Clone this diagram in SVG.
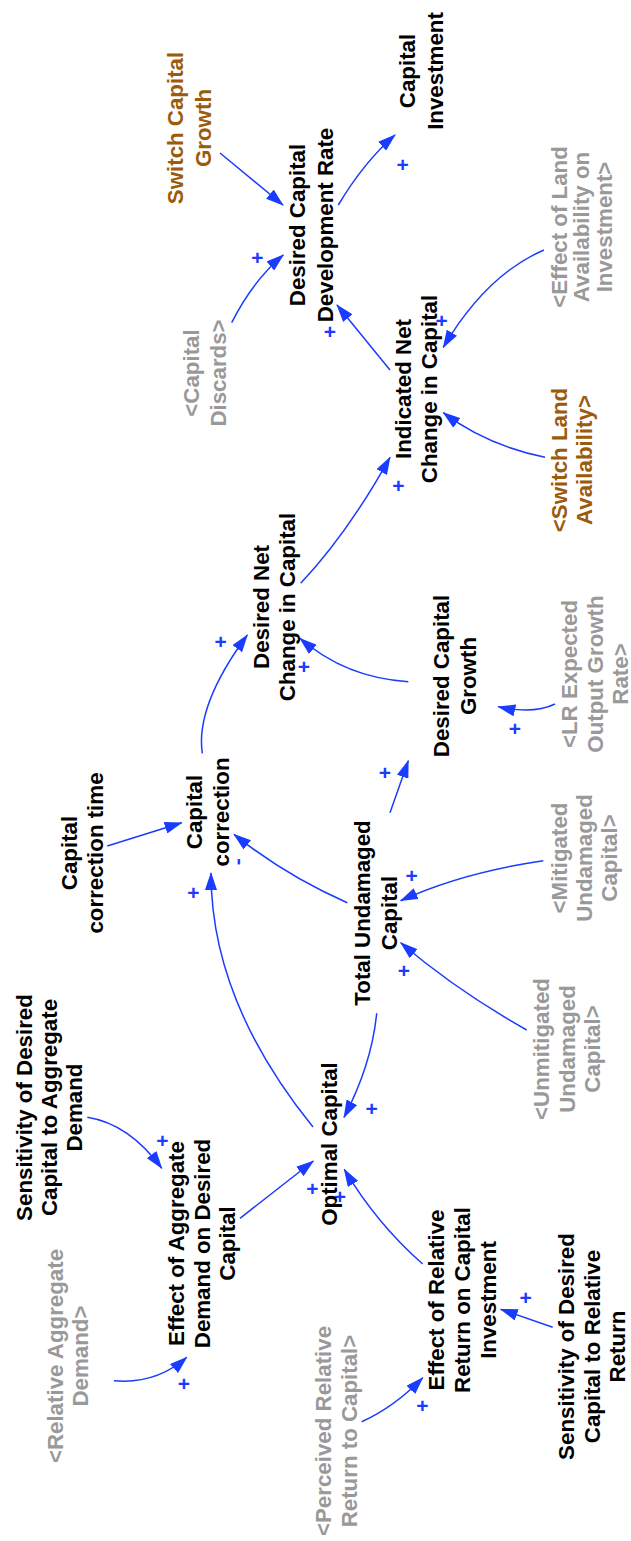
<svg xmlns="http://www.w3.org/2000/svg" width="631" height="1541" viewBox="0 0 631 1541">
<style>
.n{font-family:"Liberation Sans",Arial,sans-serif;font-weight:bold;font-size:22.3px;text-anchor:middle;fill:#000}
.g{fill:#999999}
.b{fill:#9b5b0b}
.l{fill:none;stroke:#1a3cff;stroke-width:1.5;marker-end:url(#ah)}
.p{font-family:"Liberation Sans",Arial,sans-serif;font-weight:bold;font-size:21px;fill:#1a3cff;text-anchor:middle}
</style>
<defs>
<marker id="ah" viewBox="0 0 18 12" refX="17" refY="6" markerWidth="18" markerHeight="12" markerUnits="userSpaceOnUse" orient="auto"><path d="M0,0 L18,6 L0,12 z" fill="#1a3cff"/></marker>
</defs>
<rect width="631" height="1541" fill="#fff"/>
<g id="connectors">
<path class="l" d="M220,153 L283,205"/>
<path class="l" d="M231.7,322.7 Q252.5,281.1 283.3,255"/>
<path class="l" d="M338.3,205 Q364,162 395,135"/>
<path class="l" d="M390,370 Q360,333 337,305"/>
<path class="l" d="M544,250 Q486.3,274.7 443.3,347.3"/>
<path class="l" d="M545,457.3 Q485.8,445 443.3,412.7"/>
<path class="l" d="M300.7,583.3 Q348,533 390,457.3"/>
<path class="l" d="M408.3,681.7 Q345.8,678 300,638.3"/>
<path class="l" d="M202.3,753.3 Q195.2,705.8 247.3,635"/>
<path class="l" d="M555,704 Q533.3,714.6 498.3,706.7"/>
<path class="l" d="M390,812.7 L408.3,760.7"/>
<path class="l" d="M107.3,846 L181.7,822.7"/>
<path class="l" d="M347.3,902.7 Q285.3,875.5 234,834.3"/>
<path class="l" d="M313,1127 Q211,1001 211,873"/>
<path class="l" d="M376.7,1013.3 Q371.6,1064.7 344,1117.3"/>
<path class="l" d="M543.3,860.7 Q461.4,872.7 400.7,900.7"/>
<path class="l" d="M526.7,1030 Q456.3,990.2 400.7,942.7"/>
<path class="l" d="M87.3,1117.3 Q128.9,1123.8 161.7,1168.3"/>
<path class="l" d="M240,1218.3 L313.3,1161"/>
<path class="l" d="M114,1380.7 Q156.2,1384.4 186.7,1357.3"/>
<path class="l" d="M422.7,1264 Q376.5,1223.3 344.3,1169.3"/>
<path class="l" d="M361.7,1421.7 Q394.4,1406.9 422.7,1377.7"/>
<path class="l" d="M552.7,1327.3 L500.7,1309.3"/>
</g>
<g id="polarities">
<text class="p" x="257.3" y="264.8">+</text>
<text class="p" x="402.7" y="171.5">+</text>
<text class="p" x="330" y="339.2">+</text>
<text class="p" x="441.7" y="327.5">+</text>
<text class="p" x="398.3" y="492.5">+</text>
<text class="p" x="304" y="674.2">+</text>
<text class="p" x="220.7" y="649.2">+</text>
<text class="p" x="515" y="735.8">+</text>
<text class="p" x="385" y="779.8">+</text>
<text class="p" transform="translate(244,861.7) rotate(-90)" x="0" y="0">-</text>
<text class="p" x="193.3" y="900.2">+</text>
<text class="p" x="371.7" y="1115.8">+</text>
<text class="p" x="411.7" y="883.2">+</text>
<text class="p" x="404" y="977.5">+</text>
<text class="p" x="162.3" y="1148.2">+</text>
<text class="p" x="312.3" y="1195.8">+</text>
<text class="p" x="184" y="1390.8">+</text>
<text class="p" x="340" y="1203.5">+</text>
<text class="p" x="422.3" y="1412.5">+</text>
<text class="p" x="525.7" y="1304.8">+</text>
</g>
<g id="capital-investment"><text class="n" transform="translate(415,71) rotate(-90)"><tspan x="0" y="0">Capital</tspan><tspan x="0" y="28">Investment</tspan></text></g>
<g id="desired-capital-development-rate"><text class="n" transform="translate(305,225) rotate(-90)"><tspan x="0" y="0">Desired Capital</tspan><tspan x="0" y="28">Development Rate</tspan></text></g>
<g id="switch-capital-growth"><text class="n b" transform="translate(183,128) rotate(-90)"><tspan x="0" y="0">Switch Capital</tspan><tspan x="0" y="28">Growth</tspan></text></g>
<g id="capital-discards"><text class="n g" transform="translate(199,373) rotate(-90)"><tspan x="0" y="0">&lt;Capital</tspan><tspan x="0" y="27">Discards&gt;</tspan></text></g>
<g id="indicated-net-change"><text class="n" transform="translate(410.5,389) rotate(-90)"><tspan x="0" y="0">Indicated Net</tspan><tspan x="0" y="26.5">Change in Capital</tspan></text></g>
<g id="effect-land-availability"><text class="n g" transform="translate(566.5,227) rotate(-90)"><tspan x="0" y="0">&lt;Effect of Land</tspan><tspan x="0" y="22.5">Availability on</tspan><tspan x="0" y="45">Investment&gt;</tspan></text></g>
<g id="switch-land-availability"><text class="n b" transform="translate(566.5,460) rotate(-90)"><tspan x="0" y="0">&lt;Switch Land</tspan><tspan x="0" y="25">Availability&gt;</tspan></text></g>
<g id="desired-net-change"><text class="n" transform="translate(269,607) rotate(-90)"><tspan x="0" y="0">Desired Net</tspan><tspan x="0" y="26">Change in Capital</tspan></text></g>
<g id="desired-capital-growth"><text class="n" transform="translate(448.5,676) rotate(-90)"><tspan x="0" y="0">Desired Capital</tspan><tspan x="0" y="27">Growth</tspan></text></g>
<g id="lr-expected-output-growth"><text class="n g" transform="translate(576.5,674) rotate(-90)"><tspan x="0" y="0">&lt;LR Expected</tspan><tspan x="0" y="26">Output Growth</tspan><tspan x="0" y="51.5">Rate&gt;</tspan></text></g>
<g id="capital-correction-time"><text class="n" transform="translate(76.5,853) rotate(-90)"><tspan x="0" y="0">Capital</tspan><tspan x="0" y="26.5">correction time</tspan></text></g>
<g id="capital-correction"><text class="n" transform="translate(201.5,812) rotate(-90)"><tspan x="0" y="0">Capital</tspan><tspan x="0" y="27">correction</tspan></text></g>
<g id="total-undamaged-capital"><text class="n" transform="translate(370,913) rotate(-90)"><tspan x="0" y="0">Total Undamaged</tspan><tspan x="0" y="26.5">Capital</tspan></text></g>
<g id="mitigated-undamaged-capital"><text class="n g" transform="translate(566.5,858) rotate(-90)"><tspan x="0" y="0">&lt;Mitigated</tspan><tspan x="0" y="25">Undamaged</tspan><tspan x="0" y="50">Capital&gt;</tspan></text></g>
<g id="unmitigated-undamaged-capital"><text class="n g" transform="translate(548.5,1049) rotate(-90)"><tspan x="0" y="0">&lt;Unmitigated</tspan><tspan x="0" y="26.5">Undamaged</tspan><tspan x="0" y="51.5">Capital&gt;</tspan></text></g>
<g id="optimal-capital"><text class="n" transform="translate(336.5,1144) rotate(-90)"><tspan x="0" y="0">Optimal Capital</tspan></text></g>
<g id="sensitivity-aggregate-demand"><text class="n" transform="translate(31.5,1107.5) rotate(-90)"><tspan x="0" y="0">Sensitivity of Desired</tspan><tspan x="0" y="25">Capital to Aggregate</tspan><tspan x="0" y="50.5">Demand</tspan></text></g>
<g id="effect-aggregate-demand"><text class="n" transform="translate(183.5,1243.5) rotate(-90)"><tspan x="0" y="0">Effect of Aggregate</tspan><tspan x="0" y="26">Demand on Desired</tspan><tspan x="0" y="51.5">Capital</tspan></text></g>
<g id="relative-aggregate-demand"><text class="n g" transform="translate(62.5,1356) rotate(-90)"><tspan x="0" y="0">&lt;Relative Aggregate</tspan><tspan x="0" y="25.5">Demand&gt;</tspan></text></g>
<g id="perceived-relative-return"><text class="n g" transform="translate(330.5,1431) rotate(-90)"><tspan x="0" y="0">&lt;Perceived Relative</tspan><tspan x="0" y="26">Return to Capital&gt;</tspan></text></g>
<g id="effect-relative-return"><text class="n" transform="translate(443.5,1300) rotate(-90)"><tspan x="0" y="0">Effect of Relative</tspan><tspan x="0" y="26.5">Return on Capital</tspan><tspan x="0" y="52.5">Investment</tspan></text></g>
<g id="sensitivity-relative-return"><text class="n" transform="translate(573.5,1346.5) rotate(-90)"><tspan x="0" y="0">Sensitivity of Desired</tspan><tspan x="0" y="26.5">Capital to Relative</tspan><tspan x="0" y="51.5">Return</tspan></text></g>
</svg>
